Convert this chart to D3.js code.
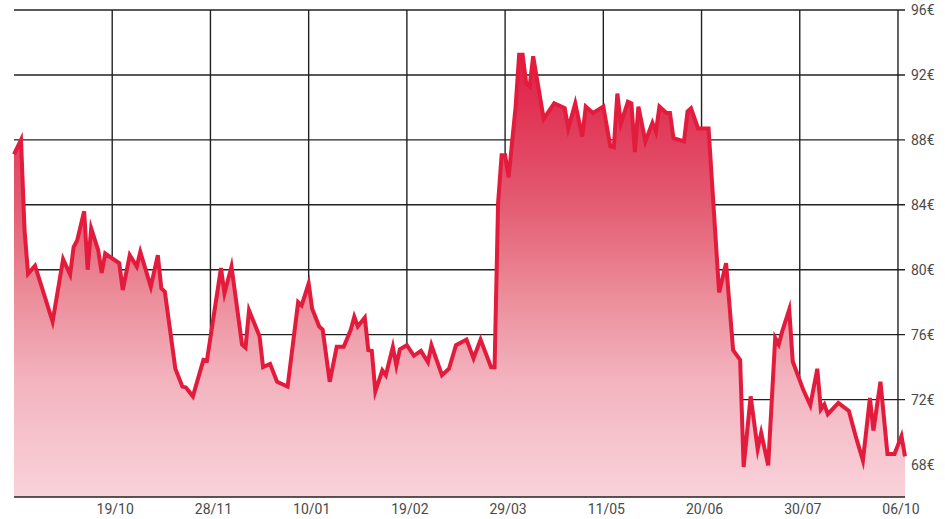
<!DOCTYPE html>
<html><head><meta charset="utf-8">
<script src="https://cdn.jsdelivr.net/npm/d3@7"></script>
<style>body{margin:0;background:#fff}svg{display:block}</style>
</head><body><svg id="c" width="945" height="519"></svg>
<script>
// trading-day index and closing price (€)
const days = [0,2,3,4,6,11,14,16,17,18,20,21,22,24,25,26,30,31,33,35,36,39,41,42,43,46,48,49,51,54,55,59,60,62,65,66,67,70,71,73,75,78,81,82,84,85,87,88,90,92,94,96,97,98,100,101,102,103,105,106,108,109,110,112,114,116,118,119,122,124,126,129,131,133,136,137,138,139,140,141,143,144,145,146,147,148,151,154,157,158,160,162,163,165,168,170,171,172,173,175,176,177,178,180,182,183,184,186,187,188,191,192,193,195,198,201,203,205,207,208,210,212,213,215,217,218,219,221,222,225,227,229,230,231,232,235,238,240,242,244,245,247,249,251,253,254];
const prices = [87.1,88.0,82.45,79.75,80.25,76.8,80.65,79.7,81.4,81.8,83.6,80.0,82.55,81.2,79.8,81.0,80.4,78.75,80.9,80.2,81.1,78.95,80.9,78.85,78.65,73.9,72.8,72.75,72.2,74.45,74.4,80.1,78.55,80.2,75.4,75.2,77.5,75.9,74.0,74.2,73.1,72.8,78.0,77.8,79.15,77.6,76.5,76.3,73.1,75.25,75.25,76.3,77.1,76.5,77.05,75.05,75.0,72.5,73.8,73.5,75.25,74.1,75.1,75.35,74.7,75.0,74.3,75.35,73.5,73.9,75.35,75.7,74.55,75.7,74.0,74.0,84.1,87.05,87.05,85.7,90.05,93.25,93.25,91.5,91.3,93.15,89.3,90.25,89.95,88.7,90.25,88.2,90.05,89.65,90.05,87.6,87.55,90.85,89.0,90.35,90.25,87.25,90.05,87.9,89.05,88.5,90.05,89.65,89.65,88.1,87.9,89.75,89.95,88.7,88.7,78.6,80.4,75.05,74.45,67.85,72.2,68.95,69.95,67.95,75.8,75.4,76.2,77.55,74.35,72.6,71.65,73.9,71.4,71.7,71.1,71.8,71.3,69.7,68.25,72.1,70.1,73.1,68.65,68.65,69.75,68.5];
const tickDays = [28,56,84,112,140,168,196,224,252];
const tickLabels = ['19/10','28/11','10/01','19/02','29/03','11/05','20/06','30/07','06/10'];
const yTicks = [68,72,76,80,84,88,92,96];

const data = days.map((d,i)=>({d:d, p:prices[i]}));
const svg = d3.select('#c');
const x = d3.scaleLinear().domain([0,254]).range([14,905]);
const y = d3.scaleLinear().domain([66,96]).range([497,10]);

const defs = svg.append('defs');
const grad = defs.append('linearGradient').attr('id','g')
  .attr('gradientUnits','userSpaceOnUse').attr('x1',0).attr('x2',0)
  .attr('y1',y(93.3)).attr('y2',y(66));
[[0,'#e01c44'],[0.33,'#e35a70'],[0.55,'#ec8e9b'],[0.74,'#f3b4bf'],[1,'#f9d2da']]
  .forEach(s=>grad.append('stop').attr('offset',s[0]).attr('stop-color',s[1]));

const grid = svg.append('g').attr('stroke','#222').attr('stroke-width',1.4);
grid.selectAll('line.h').data(yTicks).join('line').attr('class','h')
  .attr('x1',x(0)).attr('x2',x(254)).attr('y1',d=>y(d)).attr('y2',d=>y(d));
grid.selectAll('line.v').data(tickDays).join('line').attr('class','v')
  .attr('x1',d=>x(d)).attr('x2',d=>x(d)).attr('y1',y(96)).attr('y2',y(66));

svg.append('path').datum(data).attr('fill','url(#g)')
  .attr('d', d3.area().x(d=>x(d.d)).y0(y(66)).y1(d=>y(d.p)));
svg.append('path').datum(data).attr('fill','none').attr('stroke','#e31b3c')
  .attr('stroke-width',4).attr('stroke-linejoin','miter').attr('stroke-miterlimit',6)
  .attr('d', d3.line().x(d=>x(d.d)).y(d=>y(d.p)));

svg.append('line').attr('x1',x(0)).attr('x2',x(254)).attr('y1',y(66)).attr('y2',y(66))
  .attr('stroke','#222').attr('stroke-width',1.5);

svg.append('g').selectAll('text').data(tickDays).join('text')
  .attr('x',d=>x(d)+3).attr('y',514).attr('text-anchor','middle')
  .attr('font-family','Roboto, sans-serif').attr('font-size',14).attr('fill','#4a4a4a')
  .text((d,i)=>tickLabels[i]);

svg.append('g').selectAll('text').data(yTicks).join('text')
  .attr('x',911).attr('y',d=>y(d)).attr('dy','0.36em')
  .attr('font-family','Roboto, sans-serif').attr('font-size',14).attr('fill','#4a4a4a')
  .text(d=>d+'€');
</script></body></html>
